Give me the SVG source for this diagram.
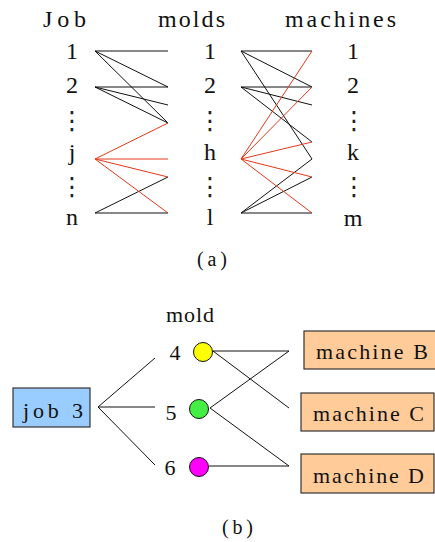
<svg xmlns="http://www.w3.org/2000/svg" width="435" height="542" viewBox="0 0 435 542">
<style>
text{font-family:"Liberation Serif","Times New Roman",serif;fill:#111}
.m{text-anchor:middle}
.t{font-size:24px}
.n{font-size:24px}
.s{font-size:22px}
.c{font-size:20px}
.d{font-family:"DejaVu Sans",sans-serif;font-size:25px;text-anchor:middle;fill:#222}
.k{stroke:#111;stroke-width:1;fill:none}
.r{stroke:#e4381c;stroke-width:1;fill:none}
.box{stroke:#333;stroke-width:1.2}
.circ{stroke:#111;stroke-width:1}
</style>
<g id="headers">
<text class="t" x="43" y="27" textLength="43" lengthAdjust="spacing">Job</text>
<text class="t" x="158" y="27" textLength="67" lengthAdjust="spacing">molds</text>
<text class="t" x="285" y="27" textLength="111" lengthAdjust="spacing">machines</text>
</g>
<g id="jobs">
<text class="n m" x="72" y="59">1</text>
<text class="n m" x="72" y="93">2</text>
<text class="d" x="72" y="129">⋮</text>
<text class="n m" x="72" y="160">j</text>
<text class="d" x="72" y="195">⋮</text>
<text class="n m" x="72" y="225">n</text>
</g>
<g id="molds">
<text class="n m" x="210" y="59">1</text>
<text class="n m" x="210" y="93">2</text>
<text class="d" x="210" y="129">⋮</text>
<text class="n m" x="210" y="160">h</text>
<text class="d" x="210" y="195">⋮</text>
<text class="n m" x="210" y="225">l</text>
</g>
<g id="machines">
<text class="n m" x="353" y="59">1</text>
<text class="n m" x="353" y="93">2</text>
<text class="d" x="354" y="129">⋮</text>
<text class="n m" x="353" y="160">k</text>
<text class="d" x="354" y="195">⋮</text>
<text class="n m" x="353" y="226">m</text>
</g>
<g id="connectors-a">
<path class="k" d="M95 51H168M95 51L168 87M95 51L168 123M95 87H168M95 87L168 105M95 87L168 123M95 213L168 177M95 213H168"/>
<path class="r" d="M95 159L168 123M95 159H168M95 159L168 177M95 159L168 213"/>
<path class="k" d="M241 51H312M241 51L312 87M241 51L312 159M241 87H312M241 87L312 105M241 87L312 142M241 213L312 159M241 213L312 177M241 213H312"/>
<path class="r" d="M241 159L312 51M241 159L312 87M241 159L312 142M241 159L312 177M241 159L312 213"/>
</g>
<text class="c" x="197" y="266" textLength="30" lengthAdjust="spacing">(a)</text>
<g id="job3">
<rect class="box" x="13" y="388" width="77" height="39" fill="#99ccff"/>
<text class="s" x="23" y="418" textLength="60" lengthAdjust="spacing">job 3</text>
</g>
<text class="s" x="166" y="322" textLength="48" lengthAdjust="spacing">mold</text>
<g id="mold4">
<text class="s m" x="175" y="360">4</text>
<circle class="circ" cx="203" cy="352" r="9.5" fill="#ffff00"/>
</g>
<g id="mold5">
<text class="s m" x="171" y="420">5</text>
<circle class="circ" cx="199" cy="409" r="9.5" fill="#44ee44"/>
</g>
<g id="mold6">
<text class="s m" x="170" y="475">6</text>
<circle class="circ" cx="199" cy="467" r="9.5" fill="#ff00ff"/>
</g>
<g id="machineB">
<rect class="box" x="304" y="331" width="132" height="38" fill="#ffcc99"/>
<text class="s" x="316" y="359" textLength="112" lengthAdjust="spacing">machine B</text>
</g>
<g id="machineC">
<rect class="box" x="301" y="393" width="133" height="38" fill="#ffcc99"/>
<text class="s" x="313" y="421" textLength="111" lengthAdjust="spacing">machine C</text>
</g>
<g id="machineD">
<rect class="box" x="301" y="454" width="133" height="39" fill="#ffcc99"/>
<text class="s" x="313" y="483" textLength="111" lengthAdjust="spacing">machine D</text>
</g>
<g id="connectors-b">
<path class="k" d="M98 407L155 358M98 407H155M98 407L155 465"/>
<path class="k" d="M213 351H289M213 351L289 408M210 408L289 351M210 408L289 466M209 466H289"/>
</g>
<text class="c" x="222" y="534" textLength="31" lengthAdjust="spacing">(b)</text>
</svg>
